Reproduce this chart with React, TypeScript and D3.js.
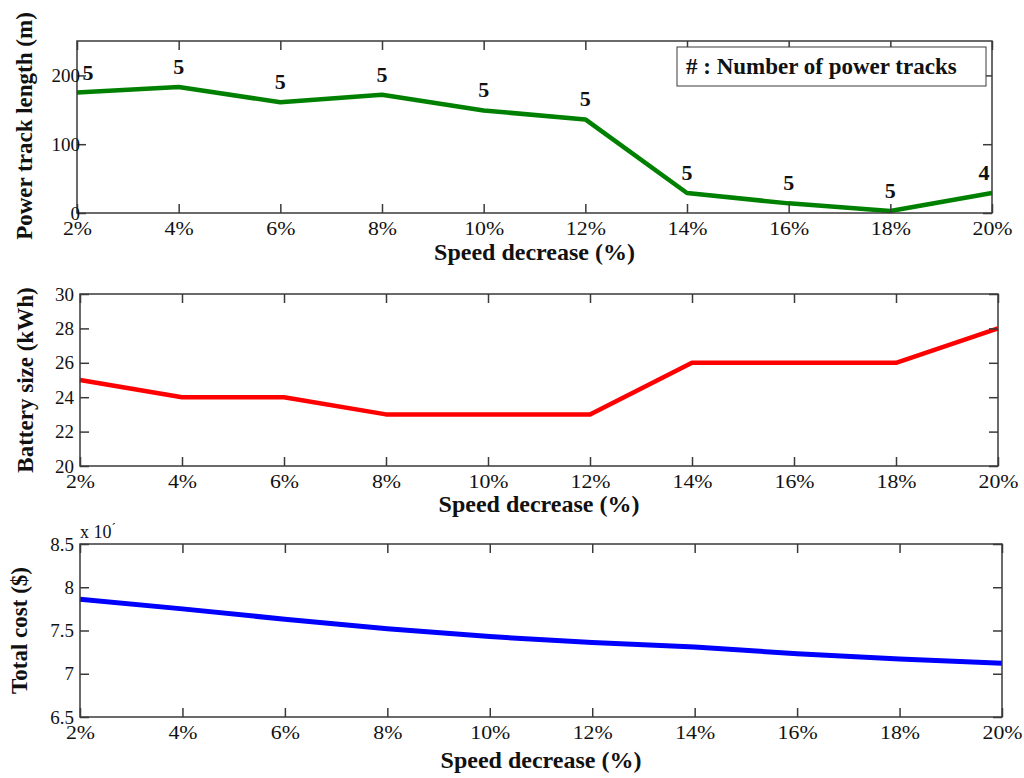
import React, { useEffect, useRef } from "react";
import * as d3 from "d3";

// speed decrease steps (x axis, %)
const speedSteps = [2, 4, 6, 8, 10, 12, 14, 16, 18, 20];

// top panel: power track length (m) and number of tracks
const trackLength = [175, 183, 161, 172, 149, 136, 29, 14, 3, 29];
const trackCount = [5, 5, 5, 5, 5, 5, 5, 5, 5, 4];
const trackTicks = [0, 100, 200];

// middle panel: battery size (kWh)
const batterySize = [25, 24, 24, 23, 23, 23, 26, 26, 26, 28];
const batteryTicks = [20, 22, 24, 26, 28, 30];

// bottom panel: total cost ($, x 10^7)
const totalCost = [7.86, 7.75, 7.63, 7.52, 7.43, 7.36, 7.31, 7.23, 7.17, 7.12];
const costTicks = [6.5, 7, 7.5, 8, 8.5];

const FONT = "'Liberation Serif', 'Times New Roman', serif";
const FRAME = "#3a3a3a";

interface PanelSpec {
    left: number;
    right: number;
    top: number;
    bottom: number;
    yDomain: [number, number];
    yTicks: number[];
    yFormat: (d: number) => string;
    yPad: number;
    values: number[];
    color: string;
    yTitle: string;
    yTitleX: number;
    xTitleY: number;
}

const panels: PanelSpec[] = [
    {
        left: 77, right: 992, top: 41, bottom: 213,
        yDomain: [0, 250], yTicks: trackTicks, yFormat: (d) => String(d), yPad: -3,
        values: trackLength, color: "#008000",
        yTitle: "Power track length (m)", yTitleX: 32, xTitleY: 260,
    },
    {
        left: 80, right: 998, top: 294, bottom: 466,
        yDomain: [20, 30], yTicks: batteryTicks, yFormat: (d) => String(d), yPad: 6,
        values: batterySize, color: "#ff0000",
        yTitle: "Battery size (kWh)", yTitleX: 33, xTitleY: 512,
    },
    {
        left: 80, right: 1002, top: 544, bottom: 717,
        yDomain: [6.5, 8.5], yTicks: costTicks, yFormat: (d) => String(d), yPad: 6,
        values: totalCost, color: "#0000ff",
        yTitle: "Total cost ($)", yTitleX: 27, xTitleY: 768,
    },
];

const App: React.FC = () => {
    const svgRef = useRef<SVGSVGElement | null>(null);

    useEffect(() => {
        document.body.style.margin = "0";
        const svg = d3.select(svgRef.current);
        svg.selectAll("*").remove();

        panels.forEach((p, i) => {
            const x = d3.scaleLinear().domain([2, 20]).range([p.left, p.right]);
            const y = d3.scaleLinear().domain(p.yDomain).range([p.bottom, p.top]);
            const g = svg.append("g");

            // data line
            const line = d3
                .line<number>()
                .x((_, j) => x(speedSteps[j]))
                .y((d) => y(d));
            g.append("path")
                .datum(p.values)
                .attr("fill", "none")
                .attr("stroke", p.color)
                .attr("stroke-width", i === 2 ? 5 : 4.5)
                .attr("stroke-linejoin", "round")
                .attr("d", line);

            // frame
            g.append("rect")
                .attr("x", p.left)
                .attr("y", p.top)
                .attr("width", p.right - p.left)
                .attr("height", p.bottom - p.top)
                .attr("fill", "none")
                .attr("stroke", FRAME)
                .attr("stroke-width", 1.5);

            const styleAxis = (sel: d3.Selection<SVGGElement, unknown, null, undefined>) => {
                sel.select(".domain").remove();
                sel.selectAll(".tick line").attr("stroke", FRAME).attr("stroke-width", 1.5);
                sel.selectAll("text")
                    .attr("fill", "#111")
                    .style("font-family", FONT)
                    .style("font-size", "19px");
            };

            // bottom axis with labels
            const xb = g.append("g")
                .attr("transform", `translate(0,${p.bottom})`)
                .call(
                    d3.axisBottom(x)
                        .tickValues(speedSteps)
                        .tickFormat((d) => `${d}%`)
                        .tickSize(-9)
                        .tickPadding(9)
                );
            styleAxis(xb);
            xb.selectAll("text").attr("transform", "scale(1.15,1)");

            // top axis ticks only
            const xt = g.append("g")
                .attr("transform", `translate(0,${p.top})`)
                .call(d3.axisTop(x).tickValues(speedSteps).tickFormat(() => "").tickSize(-9));
            styleAxis(xt);

            // left axis with labels
            const yl = g.append("g")
                .attr("transform", `translate(${p.left},0)`)
                .call(
                    d3.axisLeft(y)
                        .tickValues(p.yTicks)
                        .tickFormat((d) => p.yFormat(d as number))
                        .tickSize(-9)
                        .tickPadding(p.yPad)
                );
            styleAxis(yl);

            // right axis ticks only
            const yr = g.append("g")
                .attr("transform", `translate(${p.right},0)`)
                .call(d3.axisRight(y).tickValues(p.yTicks).tickFormat(() => "").tickSize(-9));
            styleAxis(yr);

            // axis titles
            g.append("text")
                .attr("x", (p.left + p.right) / 2 - 0)
                .attr("y", p.xTitleY)
                .attr("text-anchor", "middle")
                .style("font-family", FONT)
                .style("font-weight", "bold")
                .style("font-size", "24px")
                .attr("fill", "#111")
                .text("Speed decrease (%)");

            g.append("text")
                .attr(
                    "transform",
                    `translate(${p.yTitleX},${(p.top + p.bottom) / 2 + (i === 0 ? -1 : 0)}) rotate(-90)`
                )
                .attr("text-anchor", "middle")
                .style("font-family", FONT)
                .style("font-weight", "bold")
                .style("font-size", "23px")
                .attr("fill", "#111")
                .text(p.yTitle);

            if (i === 0) {
                // number of power tracks above each point
                g.selectAll(".count")
                    .data(trackCount)
                    .enter()
                    .append("text")
                    .attr("x", (_, j) =>
                        Math.min(Math.max(x(speedSteps[j]), p.left + 11), p.right - 8)
                    )
                    .attr("y", (_, j) => y(trackLength[j]) - 13)
                    .attr("text-anchor", "middle")
                    .style("font-family", FONT)
                    .style("font-weight", "bold")
                    .style("font-size", "22px")
                    .attr("fill", "#111")
                    .text((d) => String(d));

                // legend box
                g.append("rect")
                    .attr("x", 677)
                    .attr("y", 47)
                    .attr("width", 309)
                    .attr("height", 39)
                    .attr("fill", "#fff")
                    .attr("stroke", FRAME)
                    .attr("stroke-width", 1);
                g.append("text")
                    .attr("x", 686)
                    .attr("y", 74)
                    .style("font-family", FONT)
                    .style("font-weight", "bold")
                    .style("font-size", "23px")
                    .attr("fill", "#111")
                    .text("# : Number of power tracks");
            }

            if (i === 2) {
                const ex = g.append("text")
                    .attr("x", p.left)
                    .attr("y", 538)
                    .style("font-family", FONT)
                    .style("font-size", "18px")
                    .attr("fill", "#111");
                ex.append("tspan").text("x 10");
                ex.append("tspan").attr("dy", -6).style("font-size", "13px").text("´");
            }
        });

        return () => {
            d3.select(svgRef.current).selectAll("*").remove();
        };
    }, []);

    return (
        <svg
            ref={svgRef}
            width={1024}
            height={778}
            style={{ display: "block", background: "#fff" }}
        ></svg>
    );
};

export default App;
